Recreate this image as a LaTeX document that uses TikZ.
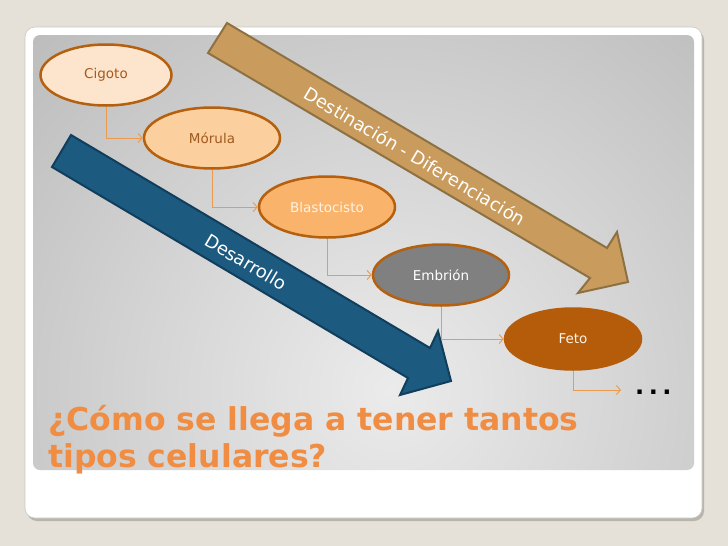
\documentclass[tikz,border=0pt]{standalone}
\usepackage{fontspec}
\setmainfont{DejaVu Sans}
\usetikzlibrary{shapes.geometric,arrows.meta}
\definecolor{bgbeige}{HTML}{E6E1D8}
\definecolor{cardshadow}{HTML}{B9B4AC}
\definecolor{cardborder}{HTML}{C8C8C8}
\definecolor{panellight}{HTML}{EBEBEB}
\definecolor{paneldark}{HTML}{9C9C9C}
\definecolor{tanfill}{HTML}{C99B5C}
\definecolor{tanborder}{HTML}{8D7142}
\definecolor{bluefill}{HTML}{1C5A80}
\definecolor{blueborder}{HTML}{113E5C}
\definecolor{nodeborder}{HTML}{B4600E}
\definecolor{cone}{HTML}{FDE5CD}
\definecolor{tone}{HTML}{A8591A}
\definecolor{ctwo}{HTML}{FBCF9E}
\definecolor{ttwo}{HTML}{A05A1E}
\definecolor{cthree}{HTML}{F9B36A}
\definecolor{tthree}{HTML}{FFF3E6}
\definecolor{embfill}{HTML}{808080}
\definecolor{fetofill}{HTML}{B45C0A}
\definecolor{connc}{HTML}{EB9A4E}
\definecolor{titleorange}{HTML}{F08D43}
\begin{document}
\begin{tikzpicture}[x=1pt,y=-1pt,
  cell/.style={ellipse, draw=nodeborder, line width=2.5pt, minimum width=136pt,
    minimum height=61pt, inner sep=0pt, font=\fontsize{13.5}{16}\selectfont},
  conn/.style={draw=connc, line width=0.9pt, -{Straight Barb[length=4pt,width=9pt]}},
  bigarrow/.style={line width=2pt, line join=miter},
  arrowlabel/.style={rotate=-30.6, text=white, inner sep=0pt, font=\fontsize{18}{18}\selectfont},
  titletext/.style={anchor=base west, inner sep=0pt, font=\bfseries\fontsize{31.5}{37}\selectfont}]
\useasboundingbox (0,0) rectangle (728,546);
\fill[bgbeige] (0,0) rectangle (728,546);
% card
\fill[cardshadow, rounded corners=10pt] (27,30) rectangle (704,521);
\filldraw[fill=white, draw=cardborder, line width=0.6pt, rounded corners=10pt] (25,27) rectangle (702,518);
% gradient panel
\begin{scope}
  \clip[rounded corners=7pt] (33,35) rectangle (694,470);
  \shade[inner color=panellight, outer color=paneldark] (390,390) circle (860pt);
\end{scope}
% big arrows
\filldraw[bigarrow, fill=tanfill, draw=tanborder] (227,23) -- (607,248) -- (617,232) -- (628,282) -- (578,293) -- (590,278) -- (208,53) -- cycle;
\filldraw[bigarrow, fill=bluefill, draw=blueborder] (71,135) -- (430,348) -- (438,331) -- (451,381) -- (400,395) -- (408,378) -- (52,167) -- cycle;
\node[arrowlabel] (lblone) at (415,156) {Destinación - Diferenciación};
\node[arrowlabel] (lbltwo) at (246,262) {Desarrollo};
% cells
\node[cell, fill=cone, text=tone, minimum width=131pt] (cigoto) at (106,75) {Cigoto};
\node[cell, fill=ctwo, text=ttwo] (morula) at (212,138) {Mórula};
\node[cell, fill=cthree, text=tthree] (blasto) at (327,207) {Blastocisto};
\node[cell, fill=embfill, text=white] (embrion) at (441,275) {Embrión};
\node[cell, fill=fetofill, draw=fetofill, text=tthree] (feto) at (573,339) {Feto};
% connectors
\draw[conn] (cigoto.south) |- (morula.west);
\draw[conn] (morula.south) |- (blasto.west);
\draw[conn] (blasto.south) |- (embrion.west);
\draw[conn] (embrion.south) |- (feto.west);
\coordinate (fend) at (621,390);
\draw[conn] (feto.south) |- (fend);
\node[anchor=base west, inner sep=0pt, font=\bfseries\fontsize{24}{24}\selectfont] (dots) at (635,394) {.\hspace{4.5pt}.\hspace{4.5pt}.};
% title
\node[titletext, text=titleorange] (titleone) at (48,430) {¿Cómo se llega a tener tantos};
\node[titletext, text=titleorange] (titletwo) at (48,467) {tipos celulares?};
\end{tikzpicture}
\end{document}
